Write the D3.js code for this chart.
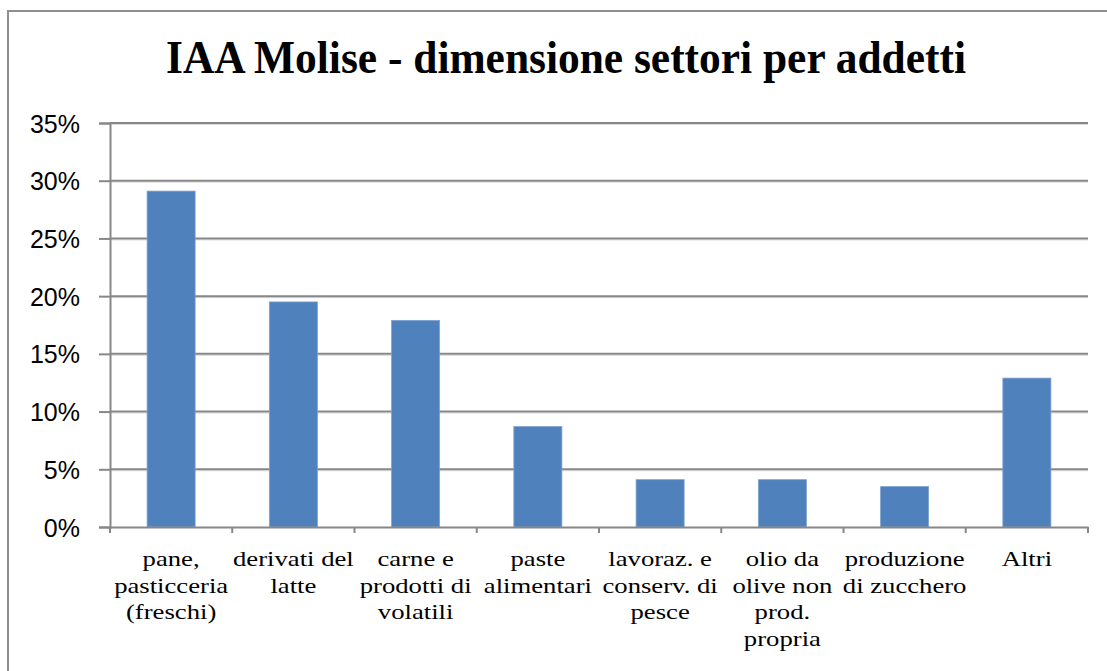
<!DOCTYPE html>
<html>
<head>
<meta charset="utf-8">
<script src="https://cdn.jsdelivr.net/npm/d3@7"></script>
<style>
  html, body { margin: 0; padding: 0; background: #fff; }
  svg { display: block; }
  .xlab { font-family: "Liberation Serif", "Times New Roman", serif !important; }
</style>
</head>
<body>
<svg id="chart" width="1107" height="671"></svg>
<script>
const title = "IAA Molise - dimensione settori per addetti";
const categories = [
  "pane, pasticceria (freschi)",
  "derivati del latte",
  "carne e prodotti di volatili",
  "paste alimentari",
  "lavoraz. e conserv. di pesce",
  "olio da olive non prod. propria",
  "produzione di zucchero",
  "Altri"
];
const categoryLines = [
  ["pane,", "pasticceria", "(freschi)"],
  ["derivati del", "latte"],
  ["carne e", "prodotti di", "volatili"],
  ["paste", "alimentari"],
  ["lavoraz. e", "conserv. di", "pesce"],
  ["olio da", "olive non", "prod.", "propria"],
  ["produzione", "di zucchero"],
  ["Altri"]
];
const values = [0.291, 0.195, 0.179, 0.087, 0.041, 0.041, 0.035, 0.129];
const yTicks = [0, 0.05, 0.10, 0.15, 0.20, 0.25, 0.30, 0.35];

(function () {
const svg = d3.select("#chart");

// outer frame
svg.append("rect")
  .attr("x", 8).attr("y", 11)
  .attr("width", 1300).attr("height", 1000)
  .attr("fill", "none")
  .attr("stroke", "#8f8f8f")
  .attr("stroke-width", 2);

// title
svg.append("text")
  .attr("x", 166).attr("y", 73)
  .style("font-family", "'Liberation Serif', 'Times New Roman', serif")
  .style("font-weight", "bold")
  .style("font-size", "46px")
  .attr("textLength", 800)
  .attr("lengthAdjust", "spacingAndGlyphs")
  .attr("fill", "#000")
  .text(title);

const pLeft = 110, pRight = 1088, pTop = 123, pBottom = 527;

const x = d3.scaleBand()
  .domain(categories)
  .range([pLeft, pRight])
  .paddingInner(0.607)
  .paddingOuter(0.3035);

const y = d3.scaleLinear()
  .domain([0, 0.35])
  .range([pBottom, pTop]);

// gridlines (with faint shadow)
const grid = svg.append("g");
grid.selectAll("line.shadow")
  .data(yTicks.slice(1))
  .join("line")
  .attr("class", "shadow")
  .attr("x1", pLeft).attr("x2", pRight)
  .attr("y1", d => y(d) + 1.5).attr("y2", d => y(d) + 1.5)
  .attr("stroke", "#dcdcdc").attr("stroke-width", 1);
grid.selectAll("line.main")
  .data(yTicks.slice(1))
  .join("line")
  .attr("class", "main")
  .attr("x1", pLeft).attr("x2", pRight)
  .attr("y1", d => y(d)).attr("y2", d => y(d))
  .attr("stroke", "#878787").attr("stroke-width", 2);

// bars
svg.append("g")
  .selectAll("rect")
  .data(values)
  .join("rect")
  .attr("x", (d, i) => x(categories[i]))
  .attr("width", x.bandwidth())
  .attr("y", d => y(d))
  .attr("height", d => y(0) - y(d))
  .attr("fill", "#4f81bd")
  .attr("stroke", "#7fa2d0")
  .attr("stroke-width", 0.8);

// y axis
const yAxis = svg.append("g")
  .attr("transform", `translate(${pLeft},0)`)
  .call(d3.axisLeft(y).tickValues(yTicks).tickSize(11).tickPadding(19)
    .tickFormat(d3.format(".0%")));
yAxis.attr("font-family", null).attr("font-size", null);
yAxis.select(".domain").attr("stroke", "#878787").attr("stroke-width", 2);
yAxis.selectAll(".tick line").attr("stroke", "#878787").attr("stroke-width", 2);
yAxis.selectAll(".tick text")
  .style("font-family", "'Liberation Sans', Arial, sans-serif")
  .style("font-size", "25px")
  .attr("fill", "#000")
  .attr("dy", "0.36em");

// x axis line
const xAxis = svg.append("g")
  .attr("transform", `translate(0,${pBottom})`)
  .call(d3.axisBottom(x).tickSize(0).tickPadding(0));
xAxis.attr("font-family", null).attr("font-size", null);
xAxis.select(".domain").attr("stroke", "#878787").attr("stroke-width", 2);

// boundary ticks
const boundaries = d3.range(categories.length + 1).map(i => pLeft + i * (pRight - pLeft) / categories.length);
xAxis.selectAll("line.btick")
  .data(boundaries)
  .join("line")
  .attr("class", "btick")
  .attr("x1", d => d).attr("x2", d => d)
  .attr("y1", 0).attr("y2", 6)
  .attr("stroke", "#878787").attr("stroke-width", 2);

// category labels as multi-line text
xAxis.selectAll(".tick text").each(function(d, i) {
  const t = d3.select(this);
  t.text(null)
    .attr("class", "xlab")
    .attr("y", 0).attr("dy", null)
    .attr("transform", "translate(0,39) scale(1.27,1)")
    .style("font-size", "21px")
    .attr("fill", "#000")
    .attr("text-anchor", "middle");
  categoryLines[i].forEach((ln, k) => {
    t.append("tspan").attr("x", 0).attr("y", k * 26.7).text(ln);
  });
});
})();
</script>
</body>
</html>
